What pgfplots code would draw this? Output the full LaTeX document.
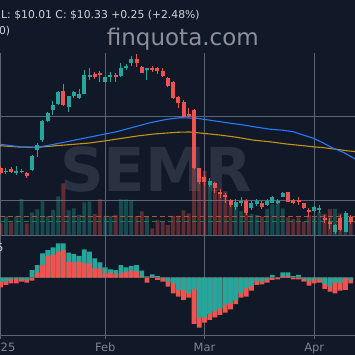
\documentclass[border=0pt]{standalone}
\usepackage{pgfplots}
\usepackage{pgfplotstable}
\pgfplotsset{compat=1.18}
\usepackage{fontspec}
\setmainfont{DejaVu Sans}
\definecolor{bg}{HTML}{111827}
\definecolor{tealc}{HTML}{26A69A}
\definecolor{redc}{HTML}{EF5350}
\definecolor{gridc}{HTML}{5A6475}
\definecolor{mablue}{HTML}{2979FF}
\definecolor{magold}{HTML}{C39216}
\definecolor{volor}{HTML}{A85A2A}
\definecolor{volgr}{HTML}{23804E}
\definecolor{labc}{HTML}{7C8594}
\definecolor{hdr}{HTML}{D0D4DA}
\definecolor{wm}{HTML}{8A919C}
\definecolor{wmtwo}{HTML}{2A3140}
\pgfplotsset{
  panel/.style={scale only axis, width=355bp, xmin=-0.134, xmax=67.81,
    hide axis, clip=false, anchor=south west},
}
\pgfplotstableread{
i T R
0 -0.062 -0.148
1 -0.062 -0.112
2 -0.025 -0.086
3 -0.020 -0.086
4 -0.025 -0.062
5 -0.035 -0.077
6 0.118 -0.046
7 0.195 0.077
8 0.375 0.195
9 0.426 0.334
10 0.468 0.349
11 0.529 0.400
12 0.529 0.426
13 0.385 0.246
14 0.365 0.237
15 0.334 0.246
16 0.437 0.222
17 0.400 0.222
18 0.298 0.145
19 0.237 0.145
20 0.160 0.068
21 0.129 0.077
22 0.118 0.052
23 0.195 0.068
24 0.160 0.092
25 0.180 0.108
26 0.195 0.092
27 0.108 0.015
28 0.022 -0.077
29 0.052 0.015
30 0.026 -0.035
31 -0.012 -0.062
32 -0.062 -0.138
33 -0.086 -0.240
34 -0.189 -0.292
35 -0.189 -0.343
36 -0.240 -0.308
37 -0.178 -0.712
38 -0.609 -0.769
39 -0.609 -0.692
40 -0.558 -0.651
41 -0.512 -0.609
42 -0.471 -0.574
43 -0.420 -0.538
44 -0.394 -0.486
45 -0.343 -0.405
46 -0.240 -0.308
47 -0.163 -0.292
48 -0.128 -0.200
49 -0.051 -0.112
50 -0.062 -0.102
51 -0.025 -0.077
52 0.042 -0.035
53 -0.005 -0.025
54 0.083 0.026
55 0.083 0.026
56 0.026 -0.025
57 0.042 -0.025
58 -0.020 -0.062
59 -0.051 -0.123
60 -0.025 -0.086
61 -0.025 -0.077
62 -0.097 -0.174
63 -0.138 -0.215
64 -0.077 -0.240
65 -0.077 -0.200
66 -0.009 -0.189
67 -0.035 -0.086
}\macd
\begin{document}
\begin{tikzpicture}[x=1bp,y=1bp]
\fill[bg] (0,0) rectangle (355,355);
% watermarks
\node[anchor=base west, inner sep=0, text=wm, font=\fontsize{23bp}{23bp}\selectfont] at (106.7,310) {finquota.com};
\node[anchor=base west, inner sep=0, text=wmtwo, font=\fontsize{60.6bp}{60bp}\selectfont\bfseries] at (60,164) {SEMR};
% grid
\draw[gridc, line width=0.8bp] (0,239) -- (355,239) (0,155) -- (355,155) (0,120) -- (355,120) (0,20) -- (355,20);
\foreach \gx in {0.7,105.2,204.5,314.2} \draw[gridc, line width=0.8bp] (\gx,302) -- (\gx,16);
% header texts
\node[anchor=base west, inner sep=0, text=hdr, font=\fontsize{10.8bp}{13bp}\selectfont] at (1,337) {L: \$10.01 C: \$10.33 +0.25 (+2.48\%)};
\node[anchor=base east, inner sep=0, text=hdr, font=\fontsize{10.8bp}{13bp}\selectfont] at (10.3,321) {SMA(200)};
\node[anchor=base east, inner sep=0, text=hdr, font=\fontsize{10.8bp}{13bp}\selectfont] at (3.6,104) {0.5};
\foreach \gx/\gl in {0.7/2025,105.2/Feb,204.5/Mar,314.2/Apr}
  \node[anchor=base, inner sep=0, text=labc, font=\fontsize{11.5bp}{13bp}\selectfont] at (\gx,3.3) {\gl};

% volume
\begin{axis}[panel, at={(0bp,120bp)}, height=182bp, ymin=0, ymax=3.64]
\addplot[ybar, bar width=3.8bp, bar shift=0pt, fill=tealc, fill opacity=0.35, draw=none] coordinates {
(1,0.37) (3,0.38) (4,0.72) (6,0.45) (7,0.51) (8,0.68) (9,0.38) (10,0.50) (11,0.77) (13,0.49) (14,0.53) (15,0.40) (16,0.65) (17,0.67) (20,0.38) (21,0.38) (23,0.71) (24,0.71) (25,0.70) (28,0.37) (40,1.00) (45,0.57) (46,0.48) (48,0.42) (49,0.40) (51,0.52) (52,0.61) (53,0.68) (54,0.53) (60,0.35) (61,0.46) (64,0.52) (66,0.42)};
\addplot[ybar, bar width=3.8bp, bar shift=0pt, fill=redc, fill opacity=0.35, draw=none] coordinates {
(0,0.23) (2,0.25) (5,0.23) (12,1.03) (18,0.42) (19,0.71) (22,0.40) (26,0.38) (27,0.47) (29,0.13) (30,0.30) (31,0.27) (32,0.20) (33,0.38) (34,0.38) (35,0.49) (36,0.43) (37,1.90) (38,1.30) (39,1.28) (41,0.90) (42,0.84) (43,0.87) (44,0.70) (47,0.47) (50,0.37) (55,0.35) (56,0.32) (57,0.35) (58,0.27) (59,0.39) (62,0.42) (63,0.52) (65,0.43) (67,0.37)};
\addplot[volor, line width=1.3bp, dash pattern=on 5bp off 3bp] coordinates {(-0.134,0.366) (67.81,0.366)};
\addplot[volgr, line width=1.3bp, dash pattern=on 5bp off 3bp] coordinates {(-0.134,0.266) (67.81,0.266)};
\end{axis}

% price
\begin{axis}[panel, at={(0bp,120bp)}, height=182bp, ymin=9.75, ymax=16.25]
\addplot[magold, line width=1.1bp] coordinates {
(-0.13,12.94) (3.7,12.89) (6.9,12.88) (11.35,12.95) (16.7,13.03) (19.9,13.11) (23.1,13.20) (26.3,13.29) (29.5,13.36) (33.9,13.42) (36.2,13.43) (38.8,13.38) (42.0,13.32) (45.2,13.24) (48.3,13.14) (51.5,13.08) (54.7,13.00) (57.9,12.94) (59.8,12.90) (61.7,12.87) (64.3,12.81) (66.2,12.76) (67.8,12.73)};
\addplot[mablue, line width=1.1bp] coordinates {
(-0.13,12.99) (3.7,12.90) (6.9,12.88) (9.4,12.96) (12.6,13.08) (15.8,13.20) (19.0,13.32) (22.2,13.44) (25.4,13.60) (28.6,13.76) (31.8,13.88) (34.3,13.94) (37.5,13.92) (40.1,13.85) (43.3,13.76) (46.4,13.68) (49.0,13.60) (51.5,13.53) (54.1,13.49) (56.0,13.44) (57.9,13.32) (59.8,13.21) (61.7,13.04) (63.4,12.87) (65.6,12.70) (67.8,12.47)};
% teal wicks
\addplot[tealc, line width=1bp, unbounded coords=jump] table[row sep=\\] {
x y\\
1 11.93\\ 1 12.14\\ 1 nan\\
3 11.89\\ 3 12.23\\ 3 nan\\
4 11.95\\ 4 12.11\\ 4 nan\\
6 12.04\\ 6 12.61\\ 6 nan\\
7 12.55\\ 7 13.04\\ 7 nan\\
8 13.07\\ 8 13.86\\ 8 nan\\
9 13.77\\ 9 14.16\\ 9 nan\\
10 14.04\\ 10 14.52\\ 10 nan\\
11 14.39\\ 11 14.89\\ 11 nan\\
13 14.15\\ 13 14.73\\ 13 nan\\
14 14.63\\ 14 14.89\\ 14 nan\\
15 14.61\\ 15 14.96\\ 15 nan\\
16 14.77\\ 16 15.64\\ 16 nan\\
17 15.29\\ 17 15.71\\ 17 nan\\
20 15.18\\ 20 15.39\\ 20 nan\\
21 15.21\\ 21 15.57\\ 21 nan\\
23 15.41\\ 23 15.90\\ 23 nan\\
24 15.66\\ 24 15.86\\ 24 nan\\
25 15.77\\ 25 16.14\\ 25 nan\\
28 15.29\\ 28 15.73\\ 28 nan\\
40 11.46\\ 40 11.79\\ 40 nan\\
45 10.64\\ 45 11.05\\ 45 nan\\
46 10.77\\ 46 11.11\\ 46 nan\\
48 10.64\\ 48 10.95\\ 48 nan\\
49 10.80\\ 49 11.04\\ 49 nan\\
51 10.80\\ 51 11.02\\ 51 nan\\
52 10.88\\ 52 11.14\\ 52 nan\\
53 10.84\\ 53 11.04\\ 53 nan\\
54 11.09\\ 54 11.29\\ 54 nan\\
60 10.57\\ 60 10.77\\ 60 nan\\
61 10.54\\ 61 10.82\\ 61 nan\\
64 9.77\\ 64 10.16\\ 64 nan\\
66 9.84\\ 66 10.61\\ 66 nan\\
};
% teal bodies
\addplot[tealc, line width=4bp, unbounded coords=jump] table[row sep=\\] {
x y\\
1 12.00\\ 1 12.05\\ 1 nan\\
3 11.98\\ 3 12.05\\ 3 nan\\
4 12.00\\ 4 12.05\\ 4 nan\\
6 12.07\\ 6 12.57\\ 6 nan\\
7 12.80\\ 7 12.98\\ 7 nan\\
8 13.14\\ 8 13.83\\ 8 nan\\
9 13.82\\ 9 14.09\\ 9 nan\\
10 14.21\\ 10 14.41\\ 10 nan\\
11 14.43\\ 11 14.86\\ 11 nan\\
13 14.32\\ 13 14.70\\ 13 nan\\
14 14.70\\ 14 14.84\\ 14 nan\\
15 14.64\\ 15 14.80\\ 15 nan\\
16 14.80\\ 16 15.46\\ 16 nan\\
17 15.41\\ 17 15.48\\ 17 nan\\
20 15.20\\ 20 15.38\\ 20 nan\\
21 15.41\\ 21 15.48\\ 21 nan\\
23 15.43\\ 23 15.70\\ 23 nan\\
24 15.71\\ 24 15.80\\ 24 nan\\
25 15.91\\ 25 16.02\\ 25 nan\\
28 15.64\\ 28 15.70\\ 28 nan\\
40 11.54\\ 40 11.68\\ 40 nan\\
45 10.75\\ 45 10.93\\ 45 nan\\
46 10.88\\ 46 10.98\\ 46 nan\\
48 10.70\\ 48 10.88\\ 48 nan\\
49 10.84\\ 49 10.98\\ 49 nan\\
51 10.82\\ 51 10.98\\ 51 nan\\
52 10.91\\ 52 11.09\\ 52 nan\\
53 10.91\\ 53 10.98\\ 53 nan\\
54 11.12\\ 54 11.25\\ 54 nan\\
60 10.59\\ 60 10.75\\ 60 nan\\
61 10.64\\ 61 10.71\\ 61 nan\\
64 9.87\\ 64 10.09\\ 64 nan\\
66 9.87\\ 66 10.54\\ 66 nan\\
};
% red wicks
\addplot[redc, line width=1bp, unbounded coords=jump] table[row sep=\\] {
x y\\
0 11.93\\ 0 12.21\\ 0 nan\\
2 11.95\\ 2 12.19\\ 2 nan\\
5 11.80\\ 5 12.00\\ 5 nan\\
12 14.36\\ 12 15.14\\ 12 nan\\
18 15.32\\ 18 15.57\\ 18 nan\\
19 15.23\\ 19 15.59\\ 19 nan\\
22 15.20\\ 22 15.55\\ 22 nan\\
26 15.76\\ 26 16.21\\ 26 nan\\
27 15.52\\ 27 15.80\\ 27 nan\\
29 15.57\\ 29 15.79\\ 29 nan\\
30 15.50\\ 30 15.75\\ 30 nan\\
31 15.38\\ 31 15.71\\ 31 nan\\
32 15.05\\ 32 15.38\\ 32 nan\\
33 14.61\\ 33 15.25\\ 33 nan\\
34 14.29\\ 34 14.71\\ 34 nan\\
35 13.95\\ 35 14.57\\ 35 nan\\
36 13.96\\ 36 14.29\\ 36 nan\\
37 12.11\\ 37 14.25\\ 37 nan\\
38 11.57\\ 38 12.16\\ 38 nan\\
39 11.50\\ 39 11.89\\ 39 nan\\
41 11.24\\ 41 11.64\\ 41 nan\\
42 11.07\\ 42 11.39\\ 42 nan\\
43 10.89\\ 43 11.25\\ 43 nan\\
44 10.75\\ 44 11.04\\ 44 nan\\
47 10.46\\ 47 11.02\\ 47 nan\\
50 10.68\\ 50 10.95\\ 50 nan\\
55 10.93\\ 55 11.30\\ 55 nan\\
56 10.84\\ 56 11.05\\ 56 nan\\
57 10.82\\ 57 11.11\\ 57 nan\\
58 10.68\\ 58 10.89\\ 58 nan\\
59 10.39\\ 59 10.73\\ 59 nan\\
62 10.18\\ 62 10.45\\ 62 nan\\
63 9.96\\ 63 10.34\\ 63 nan\\
65 9.88\\ 65 10.45\\ 65 nan\\
67 10.14\\ 67 10.45\\ 67 nan\\
};
% red bodies
\addplot[redc, line width=4bp, unbounded coords=jump] table[row sep=\\] {
x y\\
0 11.98\\ 0 12.16\\ 0 nan\\
2 12.00\\ 2 12.09\\ 2 nan\\
5 11.86\\ 5 11.96\\ 5 nan\\
12 14.39\\ 12 14.91\\ 12 nan\\
18 15.41\\ 18 15.50\\ 18 nan\\
19 15.45\\ 19 15.55\\ 19 nan\\
22 15.39\\ 22 15.48\\ 22 nan\\
26 15.89\\ 26 16.02\\ 26 nan\\
27 15.55\\ 27 15.75\\ 27 nan\\
29 15.64\\ 29 15.73\\ 29 nan\\
30 15.59\\ 30 15.70\\ 30 nan\\
31 15.43\\ 31 15.59\\ 31 nan\\
32 15.07\\ 32 15.35\\ 32 nan\\
33 14.63\\ 33 15.23\\ 33 nan\\
34 14.45\\ 34 14.69\\ 34 nan\\
35 13.98\\ 35 14.51\\ 35 nan\\
36 14.00\\ 36 14.07\\ 36 nan\\
37 12.13\\ 37 14.20\\ 37 nan\\
38 11.63\\ 38 12.13\\ 38 nan\\
39 11.64\\ 39 11.82\\ 39 nan\\
41 11.42\\ 41 11.62\\ 41 nan\\
42 11.21\\ 42 11.29\\ 42 nan\\
43 11.11\\ 43 11.18\\ 43 nan\\
44 10.82\\ 44 11.00\\ 44 nan\\
47 10.54\\ 47 10.95\\ 47 nan\\
50 10.75\\ 50 10.89\\ 50 nan\\
55 10.94\\ 55 11.27\\ 55 nan\\
56 10.91\\ 56 11.00\\ 56 nan\\
57 10.93\\ 57 11.00\\ 57 nan\\
58 10.73\\ 58 10.88\\ 58 nan\\
59 10.57\\ 59 10.63\\ 59 nan\\
62 10.29\\ 62 10.36\\ 62 nan\\
63 10.13\\ 63 10.21\\ 63 nan\\
65 9.93\\ 65 10.36\\ 65 nan\\
67 10.20\\ 67 10.41\\ 67 nan\\
};
\end{axis}

% MACD
\begin{axis}[panel, at={(0bp,20bp)}, height=100bp, ymin=-0.882, ymax=0.657]
\addplot[ybar, bar width=4.7bp, bar shift=0pt, fill=tealc, draw=none] table[x=i, y=T] {\macd};
\addplot[ybar, bar width=4.7bp, bar shift=0pt, fill=redc, draw=none] table[x=i, y=R] {\macd};
\addplot[ybar, bar width=4.7bp, bar shift=0pt, fill=tealc, draw=none, restrict y to domain=-5:0] table[x=i, y=T] {\macd};
\end{axis}
\pgfresetboundingbox
\useasboundingbox (0,0) rectangle (355,355);
\end{tikzpicture}
\end{document}
